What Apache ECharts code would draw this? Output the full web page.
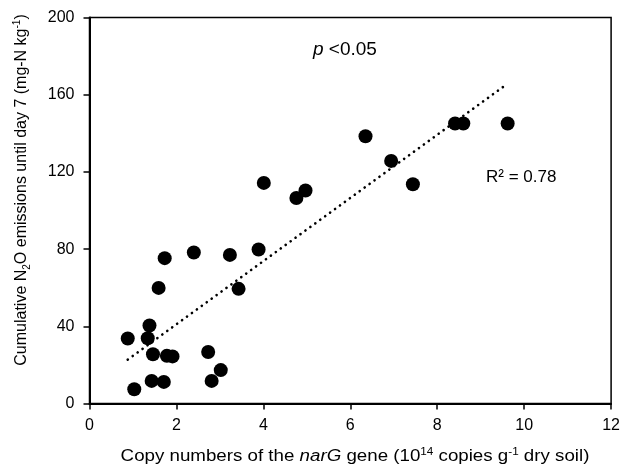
<!DOCTYPE html>
<html>
<head>
<meta charset="utf-8">
<script src="https://cdn.jsdelivr.net/npm/echarts@6/dist/echarts.min.js"></script>
<style>
  html, body { margin: 0; padding: 0; background: #fff; }
  #chart { width: 623px; height: 474px; }
</style>
</head>
<body>
<div id="chart"></div>
<script>
// narG gene copy numbers (10^14 copies per g dry soil)
const copyNumbers = [
  0.88, 1.03, 1.38, 1.34, 1.46, 1.43, 1.59, 1.73, 1.71, 1.78,
  1.91, 2.40, 2.73, 2.81, 3.02, 3.23, 3.43, 3.89, 4.01, 4.76,
  4.97, 6.35, 6.94, 7.44, 8.41, 8.60, 9.62
];
// cumulative N2O emissions until day 7 (mg-N per kg)
const emissions = [
  33.7, 7.4, 40.4, 33.8, 25.5, 11.7, 59.9, 75.3, 11.2, 24.7,
  24.4, 78.2, 26.7, 11.7, 17.3, 77.0, 59.4, 79.8, 114.3, 106.5,
  110.4, 138.5, 125.7, 113.6, 145.1, 145.1, 145.1
];
const xTicks = [0, 2, 4, 6, 8, 10, 12];
const yTicks = [0, 40, 80, 120, 160, 200];

// least-squares trend line across the observed range
const n = copyNumbers.length;
const mx = copyNumbers.reduce((a, b) => a + b, 0) / n;
const my = emissions.reduce((a, b) => a + b, 0) / n;
let sxy = 0, sxx = 0;
for (let i = 0; i < n; i++) {
  sxy += (copyNumbers[i] - mx) * (emissions[i] - my);
  sxx += (copyNumbers[i] - mx) ** 2;
}
const slope = sxy / sxx;
const intercept = my - slope * mx;
const xMin = Math.min(...copyNumbers), xMax = Math.max(...copyNumbers);
const trend = [[xMin, intercept + slope * xMin], [xMax, intercept + slope * xMax]];

const font = 'Liberation Sans, Arial, sans-serif';
const chart = echarts.init(document.getElementById('chart'));

chart.setOption({
  animation: false,
  backgroundColor: '#fff',
  grid: {
    left: 89.5, right: 10.5, top: 17.5, bottom: 70.5,
    show: true, borderColor: '#000', borderWidth: 1.5
  },
  xAxis: {
    type: 'value',
    min: xTicks[0], max: xTicks[xTicks.length - 1], interval: 2,
    axisLine: { show: true, lineStyle: { color: '#000', width: 2 } },
    axisTick: { show: true, length: 6, lineStyle: { color: '#000', width: 1.5 } },
    axisLabel: { color: '#000', fontSize: 16, fontFamily: font, margin: 14 },
    splitLine: { show: false }
  },
  yAxis: {
    type: 'value',
    min: yTicks[0], max: yTicks[yTicks.length - 1], interval: 40,
    axisLine: { show: true, lineStyle: { color: '#000', width: 2 } },
    axisTick: { show: true, length: 6, lineStyle: { color: '#000', width: 1.5 } },
    axisLabel: { color: '#000', fontSize: 16, fontFamily: font, margin: 15 },
    splitLine: { show: false }
  },
  series: [
    {
      type: 'scatter',
      data: copyNumbers.map((x, i) => [x, emissions[i]]),
      symbol: 'circle',
      symbolSize: 14,
      itemStyle: { color: '#000', opacity: 1 },
      z: 3
    },
    {
      type: 'line',
      data: trend,
      symbol: 'none',
      lineStyle: { color: '#000', width: 2.6, type: [0.1, 6], cap: 'round' },
      z: 2
    }
  ],
  graphic: [
    {
      type: 'text', x: 313, y: 50,
      style: {
        text: '{i|p} <0.05',
        font: '19px ' + font, fill: '#000',
        verticalAlign: 'middle',
        rich: { i: { fontStyle: 'italic', fontSize: 19, fontFamily: font } }
      }
    },
    {
      type: 'text', x: 486, y: 177,
      style: {
        text: 'R² = 0.78',
        font: '17px ' + font, fill: '#000',
        verticalAlign: 'middle'
      }
    },
    {
      type: 'text', x: 355, y: 457, scaleX: 1.17,
      style: {
        text: 'Copy numbers of the {i|narG} gene (10{sup|14} copies g{sup|-1} dry soil)',
        font: '16px ' + font, fill: '#000',
        align: 'center', verticalAlign: 'middle',
        rich: {
          i: { fontStyle: 'italic', fontSize: 16, fontFamily: font, lineHeight: 20 },
          sup: { fontSize: 10, fontFamily: font, verticalAlign: 'top', lineHeight: 20 }
        }
      }
    },
    {
      type: 'text', x: 22, y: 190, rotation: Math.PI / 2,
      style: {
        text: 'Cumulative N{sub|2}O emissions until day 7 (mg-N kg{sup|-1})',
        font: '16px ' + font, fill: '#000',
        align: 'center', verticalAlign: 'middle',
        rich: {
          sub: { fontSize: 10, fontFamily: font, verticalAlign: 'bottom', lineHeight: 20 },
          sup: { fontSize: 10, fontFamily: font, verticalAlign: 'top', lineHeight: 20 }
        }
      }
    }
  ]
});
</script>
</body>
</html>
